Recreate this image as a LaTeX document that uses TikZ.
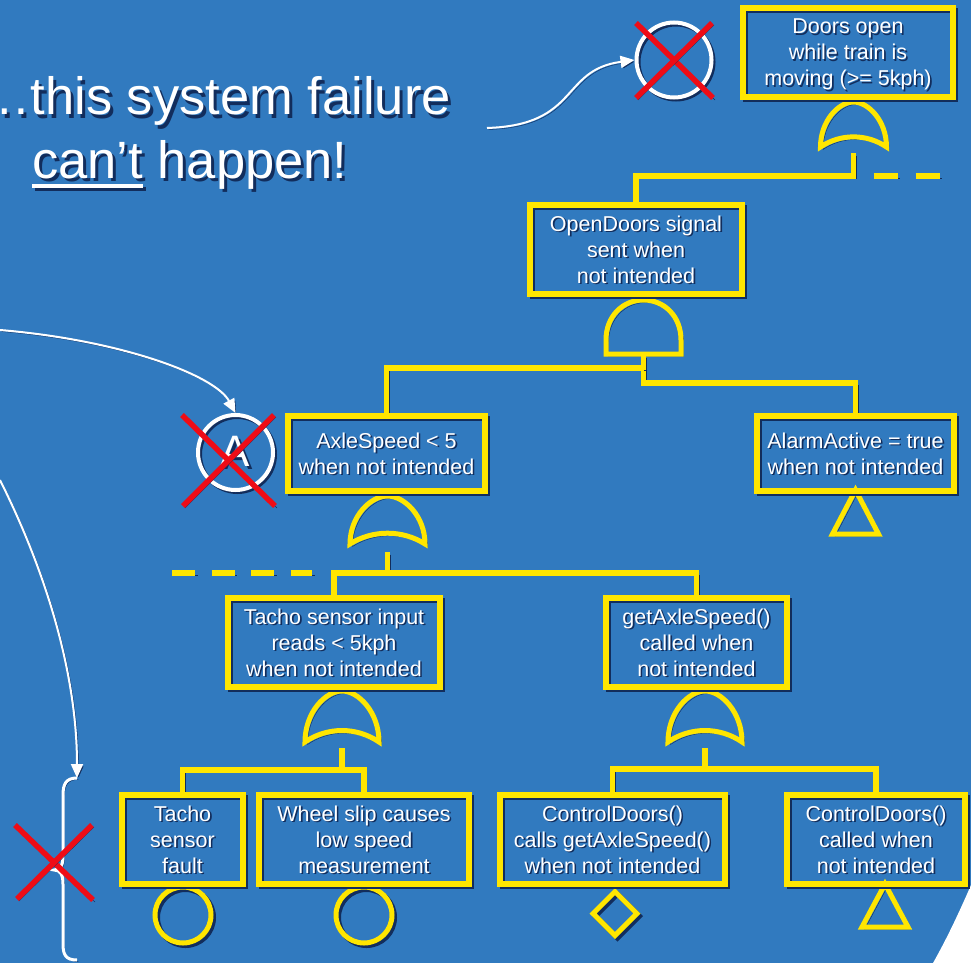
\documentclass[tikz,border=0pt]{standalone}
\usepackage{fontspec}
\setmainfont{Liberation Sans}
\usetikzlibrary{calc,arrows.meta,shapes.geometric}
\definecolor{bg}{RGB}{49,122,191}
\definecolor{ylw}{RGB}{255,230,0}
\definecolor{shd}{RGB}{18,45,92}
\definecolor{xred}{RGB}{238,12,22}
\pgfdeclarelayer{back}
\pgfdeclarelayer{links}
\pgfsetlayers{back,links,main}
% text with a small drop shadow (box labels)
\newcommand{\shl}[1]{\leavevmode\rlap{\kern1.6pt\raisebox{-1.6pt}{\textcolor{shd}{#1}}}#1}
% text with a larger drop shadow (headline)
\newcommand{\shb}[1]{\leavevmode\rlap{\kern3pt\raisebox{-3pt}{\textcolor{shd}{#1}}}#1}
% thick underline
\newcommand{\thul}[1]{\setbox0\hbox{#1}\rlap{\rule[-10pt]{\wd0}{4pt}}#1}
\newcommand{\boxfont}{\fontsize{21.5}{26}\selectfont}
\newcommand{\headfont}{\fontsize{52.5}{63}\selectfont}
\tikzset{
  dshadow/.style={preaction={draw=shd, transform canvas={shift={(2.5pt,-2.5pt)}}}},
  evt/.style={draw=ylw, line width=5.5pt, inner sep=0pt, align=center,
    text=white, font=\boxfont, text depth=-6.4pt, dshadow},
  conn/.style={draw=ylw, line width=5.5pt, dshadow},
  dconn/.style={draw=ylw, line width=5.5pt, dash pattern=#1,
    preaction={draw=shd, dash pattern=#1, transform canvas={shift={(2.5pt,-2.5pt)}}}},
  gate/.style={draw=ylw, line width=5pt, dshadow},
  wline/.style={draw=white, line width=2pt,
    preaction={draw=shd, transform canvas={shift={(1.5pt,-1.5pt)}}}},
  warrow/.style={wline, -{Triangle[length=14pt,width=12pt]}},
  wcirc/.style={circle, draw=white, line width=4pt, minimum size=75pt,
    inner sep=0pt, preaction={draw=shd, transform canvas={shift={(2pt,-2pt)}}}},
  redx/.style={draw=xred, line width=5.5pt,
    preaction={draw=shd, transform canvas={shift={(2pt,-2pt)}}}},
}
% OR gate: centre x, apex y, half width, height
\newcommand{\orgate}[4]{%
  \draw[gate] (#1-#3,#2+#4)
    .. controls (#1-#3,#2+0.42*#4) and (#1-0.45*#3,#2) .. (#1,#2)
    .. controls (#1+0.45*#3,#2) and (#1+#3,#2+0.42*#4) .. (#1+#3,#2+#4)
    .. controls (#1+0.4*#3,#2+0.7*#4) and (#1-0.4*#3,#2+0.7*#4) .. cycle;}
\begin{document}
\begin{tikzpicture}[x=1pt,y=-1pt]
\useasboundingbox (0,0) rectangle (971,963);
\begin{pgfonlayer}{back}
  \fill[bg] (0,0) rectangle (971,963);
  % edge of the slide background, lower right
  \fill[white] (971,885) .. controls (958,915) and (946,940) .. (933,963) -- (971,963) -- cycle;
\end{pgfonlayer}

% events
\node[evt, minimum width=210pt, minimum height=89pt] (top) at (848,52.5)
  {\shl{Doors open}\\\shl{while train is}\\\shl{moving (>= 5kph)}};
\node[evt, minimum width=212pt, minimum height=89pt] (od) at (636,249.5)
  {\shl{OpenDoors signal}\\\shl{sent when}\\\shl{not intended}};
\node[evt, minimum width=197pt, minimum height=75pt] (axle) at (386.5,453.5)
  {\shl{AxleSpeed < 5}\\\shl{when not intended}};
\node[evt, minimum width=197pt, minimum height=75pt] (alarm) at (855.5,453.5)
  {\shl{AlarmActive = true}\\\shl{when not intended}};
\node[evt, minimum width=212pt, minimum height=89pt] (tin) at (334,642.5)
  {\shl{Tacho sensor input}\\\shl{reads < 5kph}\\\shl{when not intended}};
\node[evt, minimum width=181pt, minimum height=89pt] (gas) at (696.5,642.5)
  {\shl{getAxleSpeed()}\\\shl{called when}\\\shl{not intended}};
\node[evt, minimum width=121pt, minimum height=89pt] (tf) at (182.5,839.5)
  {\shl{Tacho}\\\shl{sensor}\\\shl{fault}};
\node[evt, minimum width=210pt, minimum height=89pt] (ws) at (364,839.5)
  {\shl{Wheel slip causes}\\\shl{low speed}\\\shl{measurement}};
\node[evt, minimum width=225pt, minimum height=89pt] (cd1) at (612.5,839.5)
  {\shl{ControlDoors()}\\\shl{calls getAxleSpeed()}\\\shl{when not intended}};
\node[evt, minimum width=178pt, minimum height=89pt] (cd2) at (876,839.5)
  {\shl{ControlDoors()}\\\shl{called when}\\\shl{not intended}};

\begin{pgfonlayer}{links}
  % gates
  \orgate{853.5}{102}{33}{45}
  \orgate{387.5}{496}{37.5}{48}
  \orgate{342}{691}{37}{51}
  \orgate{705}{691}{37}{51}
  \draw[gate] (606,354) -- (606,340)
    .. controls (606,316) and (623,300) .. (643.5,300)
    .. controls (664,300) and (681,316) .. (681,340) -- (681,354) -- cycle;
  \coordinate (g1) at (853.5,153);
  \coordinate (g2) at (643.5,355);
  \coordinate (g3) at (387.5,552);
  \coordinate (g4) at (342,748);
  \coordinate (g5) at (705,748);

  % connectors
  \draw[conn] (g1) -- ++(0,23) coordinate (j1) -| (od.north);
  \draw[dconn={on 24pt off 18pt}] ($(j1)+(20,0)$) -- ++(66,0);
  \draw[conn] (g2) -- ++(0,28) -| (alarm.north);
  \draw[conn] ($(g2)+(0,13)$) -| (axle.north);
  \draw[conn] (g3) -- ++(0,21) coordinate (j3);
  \draw[conn] (j3) -| (tin.north);
  \draw[conn] (j3) -| (gas.north);
  \draw[dconn={on 23pt off 16.5pt}] (172,573) -- (312,573);
  \draw[conn] (g4) -- ++(0,22) coordinate (j4);
  \draw[conn] (j4) -| (tf.north);
  \draw[conn] (j4) -| (ws.north);
  \draw[conn] (g5) -- ++(0,21) coordinate (j5);
  \draw[conn] (j5) -| (cd1.north);
  \draw[conn] (j5) -| (cd2.north);

  % basic / undeveloped event symbols
  \node[circle, draw=ylw, line width=5pt, minimum size=56pt, inner sep=0pt, dshadow] (b1) at (183,915) {};
  \node[circle, draw=ylw, line width=5pt, minimum size=56pt, inner sep=0pt, dshadow] (b2) at (364,915) {};
  \node[diamond, draw=ylw, line width=5pt, minimum width=46pt, minimum height=46pt, inner sep=0pt, dshadow] (u1) at (615,913.5) {};
  \draw[gate] (855.5,490) -- (878.5,534) -- (832.5,534) -- cycle;
  \draw[gate] (885,884) -- (908,927) -- (862,927) -- cycle;
\end{pgfonlayer}

% headline
\node[anchor=base east, text=white, font=\headfont, inner sep=0pt] (l1) at (451,115)
  {\shb{…this system failure}};
\node[anchor=base west, text=white, font=\headfont, inner sep=0pt] (l2) at (32,178)
  {\shb{\thul{can’t} happen!}};

% transfer symbols, crossed out
\node[wcirc] (xc) at (674,60) {};
\node[wcirc, text=white, font=\fontsize{44}{44}\selectfont] (ac) at (235.5,452.5) {\shb{A}};
\draw[redx] (636,23) -- (713,98);
\draw[redx] (712,23) -- (636,98);
\draw[redx] (182,415) -- (275,506);
\draw[redx] (274,415) -- (183,506);

% brace over the bottom events
\coordinate (bt) at (77,778);
\draw[wline, line width=3pt] (bt) .. controls (66,778) and (63,784) .. (63,795) -- (63,856)
  .. controls (63,866) and (60,870) .. (54,870)
  .. controls (60,870) and (63,874) .. (63,884) -- (63,944)
  .. controls (63,955) and (66,960) .. (77,960);
\draw[redx] (15,825) -- (93,900);
\draw[redx] (92,825) -- (17,899);

% arrows
\draw[warrow] (487,128) .. controls (580,125) and (560,70) .. (xc.west);
\draw[warrow] (0,330) .. controls (120,340) and (215,375) .. (ac.north);
\draw[warrow] (0,480) .. controls (50,580) and (77,680) .. (bt);
\end{tikzpicture}
\end{document}
